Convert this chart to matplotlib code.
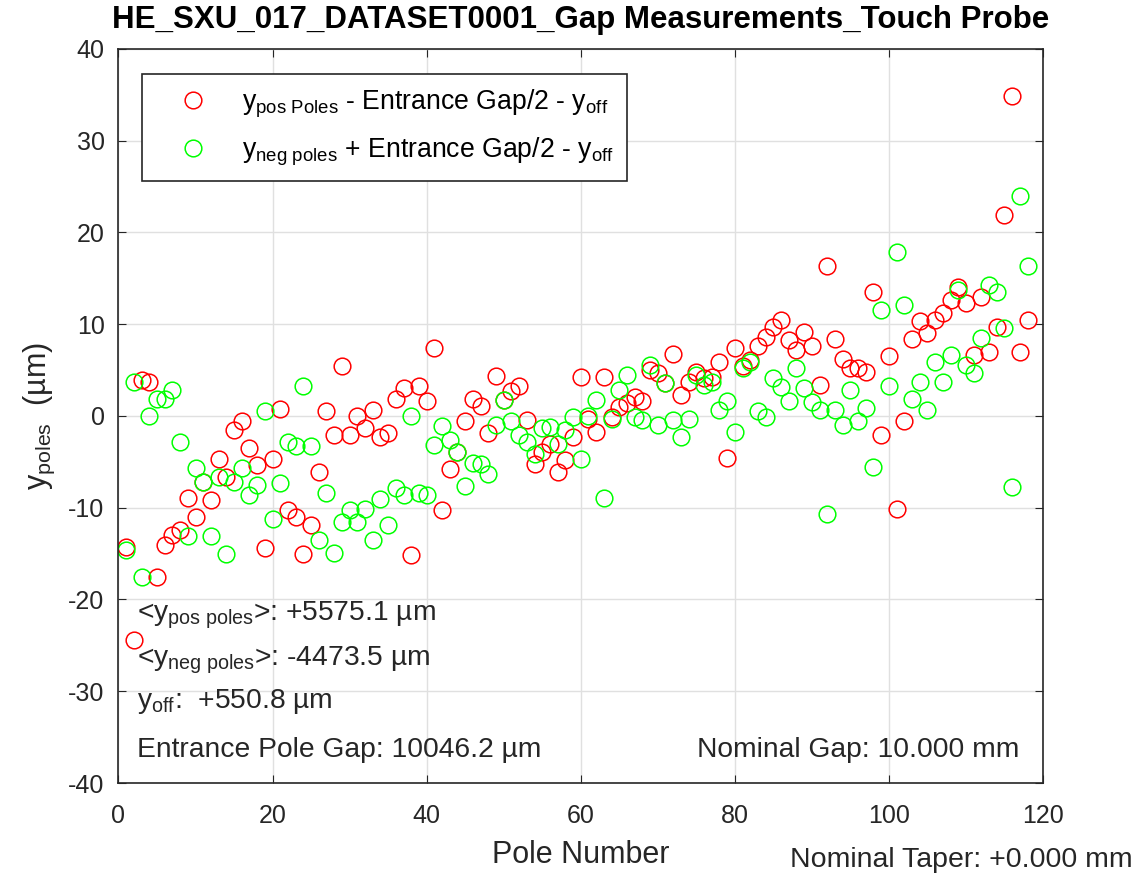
import matplotlib
matplotlib.use("Agg")
import matplotlib.pyplot as plt
import numpy as np

plt.rcParams['font.family'] = ['Liberation Sans', 'DejaVu Sans']
plt.rcParams['mathtext.fontset'] = 'custom'
plt.rcParams['mathtext.rm'] = 'Liberation Sans'
plt.rcParams['mathtext.it'] = 'Liberation Sans'
plt.rcParams['mathtext.bf'] = 'Liberation Sans:bold'
plt.rcParams['axes.unicode_minus'] = False

# 데이터 (pole 1..118)
pole = np.arange(1, 119)

y_pos = [
    -14.3, -24.4, 3.9, 3.7, -17.5, -14.1, -13.0, -12.4, -8.9, -11.0,
    -7.2, -9.2, -4.7, -6.6, -1.5, -0.6, -3.5, -5.3, -14.4, -4.7,
    0.8, -10.3, -11.0, -15.0, -11.9, -6.1, 0.5, -2.1, 5.4, -2.1,
    0.0, -1.3, 0.7, -2.3, -1.9, 1.8, 3.0, -15.2, 3.3, 1.6,
    7.4, -10.3, -5.8, -3.9, -0.6, 1.9, 1.1, -1.9, 4.4, 1.7,
    2.7, 3.3, -0.4, -5.2, -3.9, -3.0, -6.1, -4.8, -2.3, 4.2,
    -0.3, -1.7, 4.2, -0.1, 1.0, 1.4, 2.1, 1.6, 5.0, 4.7,
    3.6, 6.8, 2.3, 3.7, 4.8, 4.1, 4.3, 5.9, -4.6, 7.4,
    5.4, 6.1, 7.6, 8.6, 9.7, 10.5, 8.3, 7.2, 9.1, 7.6,
    3.4, 16.3, 8.4, 6.2, 5.2, 5.2, 4.8, 13.5, -2.1, 6.5,
    -10.1, -0.5, 8.4, 10.3, 9.0, 10.5, 11.2, 12.6, 14.1, 12.3,
    6.7, 13.0, 7.0, 9.7, 21.9, 34.9, 7.0, 10.5,
]

y_neg = [
    -14.6, 3.7, -17.5, 0.0, 1.8, 1.8, 2.8, -2.8, -13.1, -5.7,
    -7.2, -13.1, -6.6, -15.0, -7.2, -5.7, -8.6, -7.5, 0.5, -11.2,
    -7.3, -2.8, -3.3, 3.3, -3.3, -13.5, -8.4, -14.9, -11.6, -10.3,
    -11.5, -10.1, -13.5, -9.1, -11.9, -7.9, -8.6, 0.0, -8.4, -8.6,
    -3.2, -1.1, -2.6, -3.9, -7.6, -5.1, -5.2, -6.3, -1.0, 1.7,
    -0.6, -2.1, -2.8, -4.1, -1.3, -1.2, -3.0, -1.5, -0.1, -4.7,
    0.0, 1.7, -8.9, -0.3, 2.8, 4.5, -0.1, -0.4, 5.6, -1.0,
    3.6, -0.4, -2.3, -0.3, 4.5, 3.4, 3.7, 0.7, 1.6, -1.7,
    5.2, 5.9, 0.5, -0.1, 4.1, 3.2, 1.6, 5.2, 3.0, 1.5,
    0.7, -10.7, 0.7, -1.0, 2.8, -0.5, 0.9, -5.6, 11.6, 3.3,
    17.9, 12.1, 1.9, 3.7, 0.7, 5.9, 3.7, 6.7, 13.7, 5.6,
    4.7, 8.5, 14.3, 13.5, 9.6, -7.7, 24.0, 16.3,
]

fig = plt.figure(figsize=(11.47, 8.74), dpi=100)
ax = fig.add_axes([0.1033, 0.1041, 0.8060, 0.8399])

ax.plot(pole, y_pos, 'o', mfc='none', mec='#ff0000', ms=12, mew=1.1,
        label=r'$\mathregular{y_{pos\ Poles}}$ - Entrance Gap/2 - $\mathregular{y_{off}}$')
ax.plot(pole, y_neg, 'o', mfc='none', mec='#00ff00', ms=12, mew=1.1,
        label=r'$\mathregular{y_{neg\ poles}}$ + Entrance Gap/2 - $\mathregular{y_{off}}$')

ax.set_xlim(0, 120)
ax.set_ylim(-40, 40)
ax.set_xticks(range(0, 121, 20))
ax.set_yticks(range(-40, 41, 10))
ax.grid(True, color='#e0e0e0', linewidth=1)
ax.set_axisbelow(True)
ax.tick_params(direction='in', length=6, labelsize=18, top=True, right=True,
               colors='#262626', labelcolor='#262626')
ax.tick_params(axis='x', pad=15)
ax.tick_params(axis='y', pad=10)
for s in ax.spines.values():
    s.set_color('#262626')
    s.set_linewidth(1.2)

ax.set_title('HE_SXU_017_DATASET0001_Gap Measurements_Touch Probe',
             fontsize=22.5, fontweight='bold', pad=15)
ax.set_xlabel('Pole Number', fontsize=22, color='#262626', labelpad=9)
ax.set_ylabel(r'$\mathregular{y_{poles}}$  (µm)', fontsize=22, color='#262626', labelpad=8)

leg = ax.legend(loc='upper left', bbox_to_anchor=(0.0254, 0.966), fontsize=19.2,
                fancybox=False, edgecolor='#262626', framealpha=1,
                borderpad=0.5, handlelength=2.8, handletextpad=0.45,
                labelspacing=0.6, borderaxespad=0)
leg.get_frame().set_linewidth(1.2)

txt_kw = dict(fontsize=20.3, color='#262626', va='baseline')
ax.text(2.4, -22.32, r'<$\mathregular{y_{pos\ poles}}$>: +5575.1 µm', **txt_kw)
ax.text(2.4, -27.15, r'<$\mathregular{y_{neg\ poles}}$>: -4473.5 µm', **txt_kw)
ax.text(2.4, -31.84, r'$\mathregular{y_{off}}$:  +550.8 µm', **txt_kw)
ax.text(2.4, -37.2, 'Entrance Pole Gap: 10046.2 µm', **txt_kw)
ax.text(117.0, -37.2, 'Nominal Gap: 10.000 mm', ha='right', **txt_kw)
fig.text(0.9878, 0.0084, 'Nominal Taper: +0.000 mm', fontsize=20.5, color='#262626',
         ha='right', va='baseline')

plt.savefig('out.png', dpi=100)
